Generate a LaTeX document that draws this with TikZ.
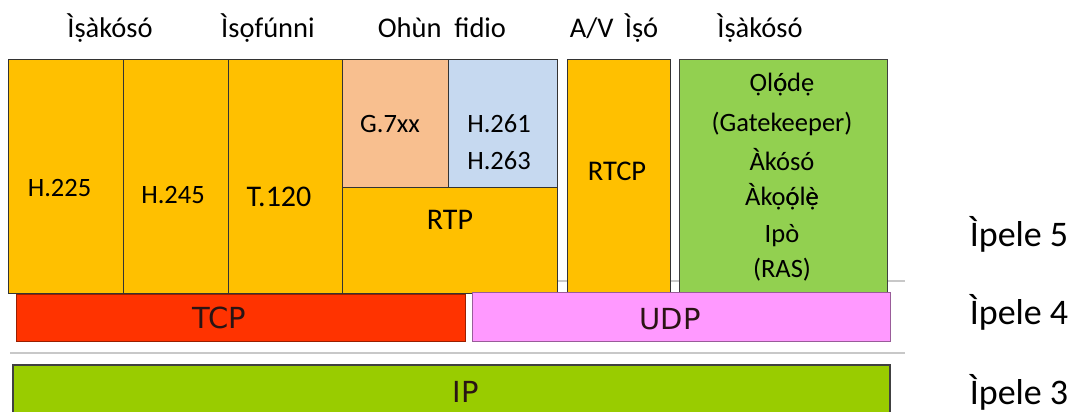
\documentclass[tikz,border=0pt]{standalone}
\usepackage{fontspec}
\setmainfont{Carlito}
\newfontfamily\dvs{DejaVu Sans}
\newcommand\ovl[2]{\ooalign{#1\cr#2\cr}}
\definecolor{orng}{HTML}{FFC000}
\definecolor{peach}{HTML}{F8BF8F}
\definecolor{lblue}{HTML}{C6D9F0}
\definecolor{lgreen}{HTML}{92D050}
\definecolor{tcpred}{HTML}{FF3300}
\definecolor{udppink}{HTML}{FF99FF}
\definecolor{ipgreen}{HTML}{99CC00}
\definecolor{sepgray}{HTML}{C8C8C8}
\definecolor{lowtxt}{HTML}{2A1414}
\begin{document}
\begin{tikzpicture}[x=1pt,y=-1pt,
  box/.style={rectangle,inner sep=0pt,outer sep=0pt,draw=black!80,line width=0.9pt},
  obox/.style={box,fill=orng},
  lbl/.style={inner sep=0pt,font=\fontsize{26.5}{30}\selectfont},
  top/.style={inner sep=0pt,font=\fontsize{28.5}{32}\selectfont},
  low/.style={inner sep=0pt,font=\dvs\fontsize{29}{33}\selectfont,text=lowtxt},
  lay/.style={inner sep=0pt,font=\fontsize{36}{40}\selectfont}]
\useasboundingbox (0,0) rectangle (1076,412);
% separator lines
\draw[sepgray,line width=2.5pt] (10,281) coordinate (s1a) -- (905,281) coordinate (s1b);
\draw[sepgray,line width=2.5pt] (10,353) coordinate (s2a) -- (905,353) coordinate (s2b);
% top labels
\node[top] (l1) at (110,28) {Ìṣàkósó};
\node[top] (l2) at (268,28) {Ìsọfúnni};
\node[top] (l3) at (442,28) {Ohùn\hspace{0.45em}fidio};
\node[top] (l4) at (614,28) {A/V\hspace{0.4em}Ìṣó};
\node[top] (l5) at (760,28) {Ìṣàkósó};
% application boxes
\node[obox,minimum width=115pt,minimum height=234pt] (h225) at (65.5,176) {};
\node[obox,minimum width=105pt,minimum height=234pt] (h245) at (175.5,176) {};
\node[obox,minimum width=114pt,minimum height=234pt] (t120) at (285,176) {};
\node[box,fill=peach,minimum width=106pt,minimum height=128pt] (g7xx) at (395,123) {};
\node[box,fill=lblue,minimum width=109pt,minimum height=128pt] (h26x) at (502.5,123) {};
\node[obox,minimum width=215pt,minimum height=106pt] (rtp) at (449.5,240) {};
\node[obox,minimum width=103pt,minimum height=234pt] (rtcp) at (618.5,176) {};
\node[box,fill=lgreen,draw=black!75,minimum width=208pt,minimum height=234pt] (gk) at (783,176) {};
% transport
\node[box,fill=tcpred,draw=tcpred!60!black,line width=0.8pt,minimum width=449pt,minimum height=47pt] (tcp) at (240.5,317.5) {};
\node[box,fill=udppink,draw=udppink!60!black,line width=0.8pt,minimum width=418pt,minimum height=49pt] (udp) at (681,316.5) {};
% network
\node[box,fill=ipgreen,draw=black!75,line width=1.2pt,minimum width=877pt,minimum height=56pt] (ip) at (451.5,393) {};
% box texts
\node[lbl] (th225) at (59.5,188) {H.225};
\node[lbl] (th245) at (173,195) {H.245};
\node[lbl,font=\fontsize{30}{34}\selectfont] (tt120) at (279,197) {T.120};
\node[lbl] (tg7xx) at (390,124) {G.7xx};
\node[lbl] (th261) at (499,124) {H.261};
\node[lbl] (th263) at (499,161) {H.263};
\node[lbl,font=\fontsize{30}{34}\selectfont] (trtp) at (450,220) {RTP};
\node[lbl,font=\fontsize{28.5}{32}\selectfont] (trtcp) at (617,171) {RTCP};
\node[lbl] (gk1) at (782,85) {Ọl\ovl{ó}{ọ}dẹ};
\node[lbl] (gk2) at (782,124) {(Gatekeeper)};
\node[lbl] (gk3) at (782,160) {Àkósó};
\node[lbl] (gk4) at (782,197) {Àkọ\ovl{ó}{ọ}l\ovl{è}{ẹ}};
\node[lbl] (gk5) at (782,236) {Ipò};
\node[lbl] (gk6) at (782,270) {(RAS)};
\node[low] (ttcp) at (219,318) {TCP};
\node[low] (tudp) at (670,319) {UDP};
\node[low] (tip) at (466,392) {IP};
% layer labels
\node[lay] (p5) at (1019,234) {Ìpele 5};
\node[lay] (p4) at (1019,312) {Ìpele 4};
\node[lay] (p3) at (1019,392) {Ìpele 3};
\end{tikzpicture}
\end{document}
